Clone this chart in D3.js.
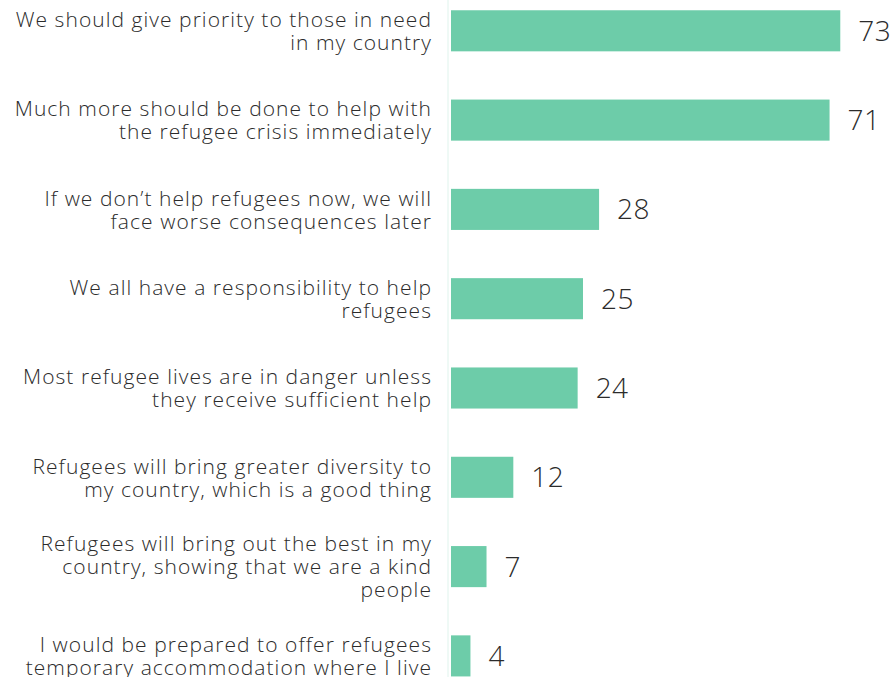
<!DOCTYPE html>
<html>
<head>
<meta charset="utf-8">
<script src="https://cdn.jsdelivr.net/npm/d3@7"></script>
<style>
  html, body { margin: 0; padding: 0; background: #fff; }
  svg { display: block; }
  .cat { font-family: "Open Sans", sans-serif; font-weight: 300; fill: #2b2b2b; letter-spacing: 1.05px; }
  .val { font-family: "Open Sans", sans-serif; font-weight: 300; fill: #2b2b2b; letter-spacing: 0.5px; }
</style>
</head>
<body>
<svg id="chart" width="895" height="677"></svg>
<script>
// Survey statements, one entry per line of the wrapped label
const statements = [
  ["We should give priority  to those  in need", "in my country"],
  ["Much more should be done to help with", "the refugee crisis immediately"],
  ["If we don\u2019t help refugees now, we will", "face worse consequences later"],
  ["We all have a responsibility to help", "refugees"],
  ["Most refugee lives are in danger unless", "they receive sufficient help"],
  ["Refugees will bring greater diversity to", "my country, which is a good thing"],
  ["Refugees will bring out the best in my", "country, showing that we are a kind", "people"],
  ["I would be prepared to offer refugees", "temporary accommodation where I live"]
];
const shares = [73, 71, 28, 25, 24, 12, 7, 4];

const W = 895, H = 677;
const svg = d3.select("#chart");

const ids = d3.range(statements.length);
const x = d3.scaleLinear().domain([0, 100]).range([449, 985]);
const y = d3.scaleBand().domain(ids).range([-13.85, 700.55])
  .paddingInner(0.54).paddingOuter(0.27);

const barGap = 2;        // white gap between axis rule and bars
const labelRight = 432;  // right edge of the statement labels
const lineH = 23;
const fontSize = 21;

// faint baseline rule
svg.append("line")
  .attr("x1", x(0) - 1).attr("x2", x(0) - 1)
  .attr("y1", 0).attr("y2", H)
  .attr("stroke", "#dff3ec").attr("stroke-width", 1);

// bars
svg.selectAll("rect.bar").data(ids).join("rect")
  .attr("class", "bar")
  .attr("x", x(0) + barGap)
  .attr("y", i => y(i))
  .attr("width", i => x(shares[i]) - x(0) - barGap)
  .attr("height", y.bandwidth())
  .attr("fill", "#6dcca9");

// value labels
svg.selectAll("text.val").data(ids).join("text")
  .attr("class", "val")
  .attr("x", i => x(shares[i]) + 18)
  .attr("y", i => y(i) + y.bandwidth() / 2)
  .attr("dy", "0.36em")
  .attr("font-size", 28)
  .text(i => shares[i]);

// statement labels, right aligned and vertically centred on each bar
const cats = svg.selectAll("text.cat").data(ids).join("text")
  .attr("class", "cat")
  .attr("text-anchor", "end")
  .attr("font-size", fontSize)
  .attr("y", i => y(i) + y.bandwidth() / 2);

cats.each(function(i) {
  const lines = statements[i];
  const n = lines.length;
  const first = 0.37 * fontSize - (n - 1) * lineH / 2;
  d3.select(this).selectAll("tspan").data(lines).join("tspan")
    .attr("x", labelRight)
    .attr("dy", (d, k) => k === 0 ? first : lineH)
    .text(d => d);
});
</script>
</body>
</html>
